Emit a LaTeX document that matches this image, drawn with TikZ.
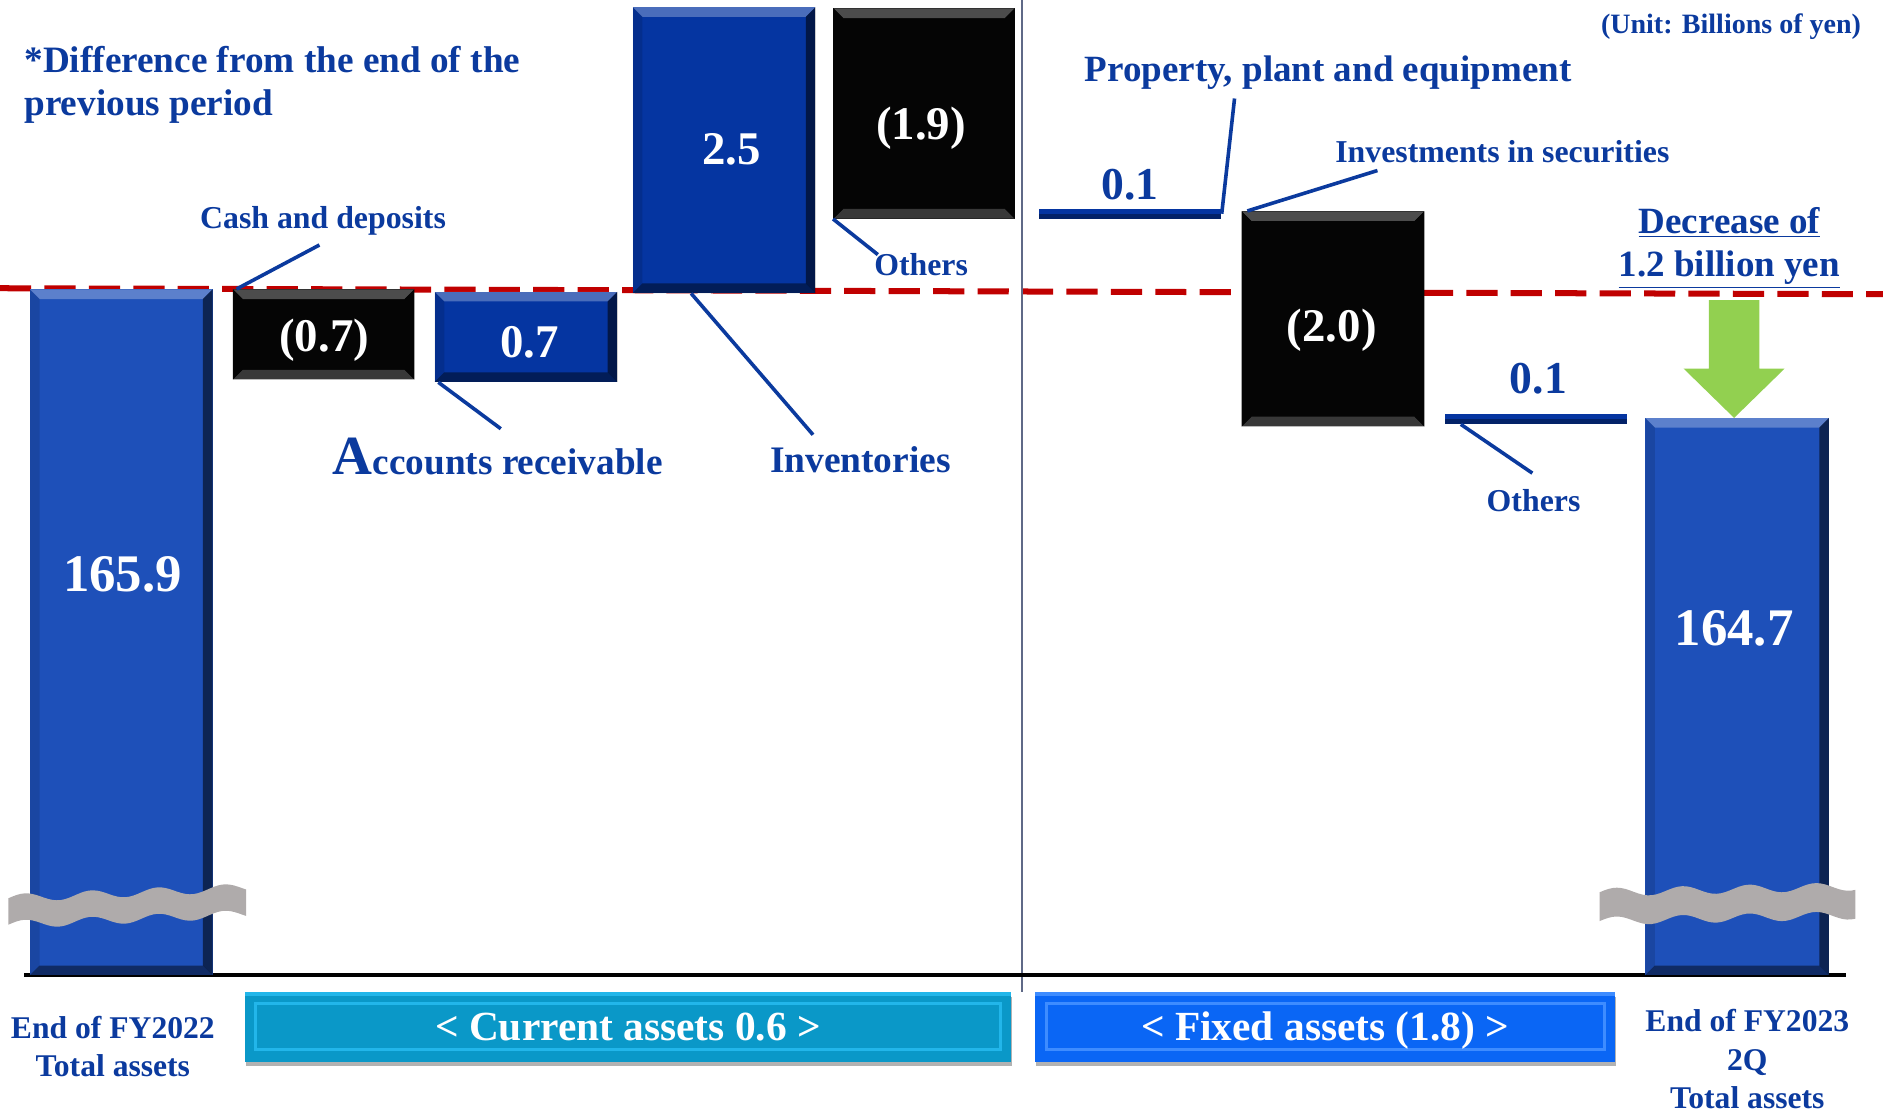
\documentclass[tikz,border=0pt]{standalone}
\usepackage{fontspec}
\setmainfont{Liberation Serif}
\usetikzlibrary{fit,calc,shadows}

\definecolor{navy}{RGB}{11,58,158}
\definecolor{barblue}{RGB}{30,80,185}
\definecolor{deepblue}{RGB}{5,53,161}
\definecolor{boxblack}{RGB}{5,5,5}
\definecolor{dashred}{RGB}{192,0,0}
\definecolor{downgreen}{RGB}{146,208,80}
\definecolor{breakgray}{RGB}{175,171,171}
\definecolor{sepgray}{RGB}{95,105,135}
\definecolor{curcyan}{RGB}{10,152,200}
\definecolor{curframe}{RGB}{34,182,234}
\definecolor{fixblue}{RGB}{10,102,245}
\definecolor{fixframe}{RGB}{62,140,255}

\newcommand\bv{4.8pt}

\begin{document}
\begin{tikzpicture}[x=0.6pt,y=-0.6pt,
    lbl/.style 2 args={text=navy,inner sep=0pt,font=\bfseries\fontsize{#1}{#2}\selectfont},
    val/.style={text=white,inner sep=0pt,font=\bfseries\fontsize{#1}{#1}\selectfont},
    leader/.style={draw=navy,line width=1.8pt},
    bevel/.style n args={4}{path picture={
      \coordinate (pnw) at (path picture bounding box.north west);
      \coordinate (pne) at (path picture bounding box.north east);
      \coordinate (psw) at (path picture bounding box.south west);
      \coordinate (pse) at (path picture bounding box.south east);
      \fill[#1] (pnw) -- (pne) -- ([shift={(-\bv,-\bv)}]pne) -- ([shift={(\bv,-\bv)}]pnw) -- cycle;
      \fill[#2] (psw) -- (pse) -- ([shift={(-\bv,\bv)}]pse) -- ([shift={(\bv,\bv)}]psw) -- cycle;
      \fill[#3] (pnw) -- ([shift={(\bv,-\bv)}]pnw) -- ([shift={(\bv,\bv)}]psw) -- (psw) -- cycle;
      \fill[#4] (pne) -- ([shift={(-\bv,-\bv)}]pne) -- ([shift={(-\bv,\bv)}]pse) -- (pse) -- cycle;
    }},
    bluebar/.style={inner sep=0pt,fill=#1,
      bevel={white,opacity=.28}{black,opacity=.45}{black,opacity=.12}{black,opacity=.55}},
    blackbox/.style={inner sep=0pt,fill=boxblack,
      bevel={white!30!black}{white!22!black}{boxblack}{boxblack}},
    thinbar/.style={inner sep=0pt,fill=deepblue,path picture={
      \fill[black,opacity=.35] (path picture bounding box.west) rectangle (path picture bounding box.south east);}},
    banner/.style 2 args={inner sep=0pt,fill=#1,text=white,minimum height=34.8pt,
      text height=13.4pt,text depth=0pt,
      font=\bfseries\fontsize{20.7}{24}\selectfont,
      drop shadow={shadow xshift=0.6pt,shadow yshift=-2.4pt,fill=black,opacity=.3},
      path picture={
        \fill[#2] (path picture bounding box.north west) rectangle ([yshift=-1.8pt]path picture bounding box.north east);
        \draw[#2,line width=1.5pt] ([shift={(5.5pt,-6pt)}]path picture bounding box.north west) rectangle ([shift={(-5.5pt,6pt)}]path picture bounding box.south east);}}]

    \useasboundingbox (0,0) rectangle (1568,927);

    % level of the previous period, separator and axis
    \draw[dashred,line width=3pt,dash pattern=on 15.6pt off 6.6pt] (0,240) -- (1568,245);
    \draw[sepgray,line width=0.6pt] (851,0) -- (851,826);
    \draw[black,line width=2.1pt] (20,812) -- (1537,812);

    % bars
    \node[bluebar=barblue, fit={(25,241) (177,812)}] (fy22bar) {};
    \node[blackbox, fit={(194,241) (345,316)}] (cashbox) {};
    \node[bluebar=deepblue, fit={(362,243) (514,318)}] (arbox) {};
    \node[bluebar=deepblue, fit={(527,6) (679,244)}] (invbar) {};
    \node[blackbox, fit={(694,7) (845,182)}] (oth1box) {};
    \node[thinbar, fit={(865,174) (1017,182)}] (ppebar) {};
    \node[blackbox, fit={(1034,176) (1186,355)}] (secbox) {};
    \node[thinbar, fit={(1203,345) (1355,353)}] (oth2bar) {};
    \node[bluebar=barblue, fit={(1370,348) (1523,812)}] (q2bar) {};

    \node[val=26.4] (fy22val) at (102,478) {165.9};
    \node[val=23.4] (cashval) at (270,283) {(0.7)};
    \node[val=23.4] (arval) at (441,285) {0.7};
    \node[val=23.4] (invval) at (609,124) {2.5};
    \node[val=23.4] (oth1val) at (767,107) {(1.9)};
    \node[val=23.4] (secval) at (1109,275) {(2.0)};
    \node[val=26.4] (q2val) at (1444,523) {164.7};
    \node[lbl={22.8}{22.8},anchor=base] (ppeval) at (941,166) {0.1};
    \node[lbl={22.8}{22.8},anchor=base] (oth2val) at (1281,327.5) {0.1};

    % broken scale
    \fill[breakgray] plot[domain=7:205,samples=60] (\x,{748-0.045*(\x-7)-3.5*sin(6.5*(\x-7))})
      -- plot[domain=205:7,samples=60] (\x,{770-0.045*(\x-7)-3.5*sin(6.5*(\x-7))}) -- cycle;
    \fill[breakgray] plot[domain=1332:1545,samples=60] (\x,{743-0.023*(\x-1332)-3.5*sin(6.5*(\x-1332))})
      -- plot[domain=1545:1332,samples=60] (\x,{767-0.023*(\x-1332)-3.5*sin(6.5*(\x-1332))}) -- cycle;

    % texts
    \node[lbl={18.6}{21.6},anchor=base west,align=left] (note) at (20,96) {*Difference from the end of the\\previous period};
    \node[lbl={14}{17},anchor=base east] (unitlbl) at (1550,27.8) {(Unit: Billions of yen)};
    \node[lbl={15.9}{19},anchor=base] (cashlbl) at (269,190) {Cash and deposits};
    \node[lbl={18.6}{22},anchor=base] (arlbl) at (414.5,395.5) {{\fontsize{27.6}{28}\selectfont A}ccounts receivable};
    \node[lbl={18.7}{22},anchor=base] (invlbl) at (716.5,393.6) {Inventories};
    \node[lbl={15.9}{19},anchor=base] (oth1lbl) at (767,229) {Others};
    \node[lbl={18.5}{22},anchor=base] (ppelbl) at (1106,68) {Property, plant and equipment};
    \node[lbl={15.9}{19},anchor=base] (seclbl) at (1251,135.5) {Investments in securities};
    \node[lbl={15.9}{19},anchor=base] (oth2lbl) at (1277,426) {Others};
    \node[lbl={18.5}{21.8},anchor=base,align=center] (declbl) at (1440,230.4) {\underline{Decrease of}\\\underline{1.2 billion yen}};
    \node[lbl={15.8}{19.2},anchor=base,align=center] (fy22lbl) at (94,896.6) {End of FY2022\\Total assets};
    \node[lbl={15.8}{19.2},anchor=base,align=center] (q2lbl) at (1455,923) {End of FY2023\\2Q\\Total assets};

    % leaders
    \coordinate (cashend) at (266,204);
    \coordinate (arend) at (417,357);
    \coordinate (invend) at (677,362);
    \coordinate (oth1end) at (731,212);
    \coordinate (ppeend) at (1028,82);
    \coordinate (secend) at (1147,142);
    \coordinate (oth2end) at (1276,394);
    \draw[leader] ([xshift=2pt]cashbox.north west) -- (cashend);
    \draw[leader] ([xshift=2pt]arbox.south west) -- (arend);
    \draw[leader] ($(invbar.south west)!.32!(invbar.south east)$) -- (invend);
    \draw[leader] (oth1box.south west) -- (oth1end);
    \draw[leader] (ppebar.east) -- (ppeend);
    \draw[leader] ([xshift=3pt]secbox.north west) -- (secend);
    \draw[leader] ($(oth2bar.south west)!.09!(oth2bar.south east)$) -- (oth2end);

    % decrease arrow
    \fill[downgreen] (1423,250) -- (1465,250) -- (1465,307) -- (1486,307) -- (1444,348) -- (1402,307) -- (1423,307) -- cycle;

    % groups
    \node[banner={curcyan}{curframe}, minimum width=382.8pt] (curband) at (523,855) {< Current assets 0.6 >};
    \node[banner={fixblue}{fixframe}, minimum width=289.8pt] (fixband) at (1103.5,855) {< Fixed assets (1.8) >};
\end{tikzpicture}
\end{document}
